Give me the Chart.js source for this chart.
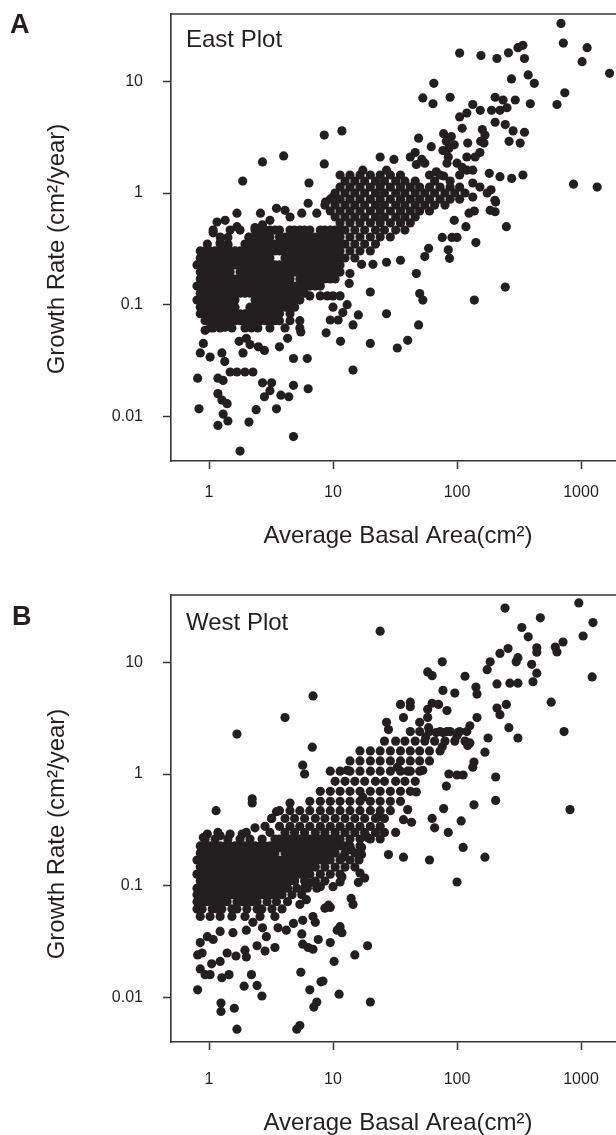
<!DOCTYPE html>
<html>
<head>
<meta charset="utf-8">
<script src="https://cdn.jsdelivr.net/npm/chart.js@4.4.1/dist/chart.umd.min.js"></script>
<style>
  html, body { margin: 0; padding: 0; background: #fff; overflow: hidden; }
  #wrap { position: relative; width: 616px; height: 1135px; }
  canvas { position: absolute; left: 0; }
</style>
</head>
<body>
<div id="wrap">
  <canvas id="east" width="616" height="581" style="top:0"></canvas>
  <canvas id="west" width="616" height="554" style="top:581px"></canvas>
</div>
<script>
// tick values
const basalTicks = [1, 10, 100, 1000];
const growthTicks = [0.01, 0.1, 1, 10];

// East plot: [basal area cm2, growth rate cm2/year], scattered points
const eastPoints = [
  [690, 33], [720, 22], [1120, 20], [1020, 15], [1700, 11.8], [740, 7.9], [640, 6.2], [870, 1.2], [1350, 1.13],
  [105, 17.9], [156, 17], [210, 16], [260, 18], [310, 20], [340, 21], [350, 16],
  [275, 10.5], [375, 11.4], [420, 9.6], [390, 6.3], [295, 6.8], [235, 6.8], [203, 7.2],
  [65, 9.6], [53, 7.1], [64, 6.3], [88, 7.2],
  [134, 6.2], [154, 5.5], [105, 4.8], [120, 5.2],
  [190, 5.5], [222, 5.5], [253, 5.8],
  [203, 4.3], [245, 4.1], [283, 3.6], [350, 3.5], [263, 2.9], [323, 2.8],
  [160, 3.7], [168, 3.3], [155, 2.9], [165, 2.8],
  [49, 3.1], [62, 2.6],
  [78, 3.4], [82, 2.9], [90, 3.2], [95, 2.7], [86, 2.5],
  [110, 3.8], [122, 2.8], [140, 2.1], [153, 2.3], [120, 1.6], [134, 1.6],
  [8.5, 3.3], [11.8, 3.6], [8.5, 1.82], [2.7, 1.9], [4.0, 2.15], [1.87, 1.28], [6.4, 1.23],
  [24, 2.1], [31, 2.0],
  [42, 2.1], [46, 2.3], [52, 2.0], [47, 1.8], [55, 1.85],
  [182, 1.5], [222, 1.4], [276, 1.35], [340, 1.45],
  [188, 1.07], [205, 0.83], [203, 0.68], [250, 0.50], [142, 0.36], [118, 0.50], [95, 0.57],
  [85, 0.31], [87, 0.26], [55, 0.27], [59, 0.32], [47, 0.19],
  [76, 0.40], [91, 0.40], [100, 0.40],
  [125, 0.66], [138, 0.69],
  [35, 0.25], [27, 0.24], [21, 0.23], [17, 0.23], [13.7, 0.19],
  [17.4, 1.6], [27, 1.6], [68, 1.55], [78, 1.42],
  [85, 2.1], [100, 1.85], [110, 1.7], [120, 2.1], [83, 1.85], [77, 2.4],
  [134, 1.23], [134, 0.92], [175, 1.0], [153, 1.13], [185, 0.70], [202, 0.86],
  [50, 0.126], [53, 0.11], [138, 0.11], [245, 0.144],
  [49, 0.066], [40, 0.048], [33, 0.041], [20, 0.045], [27, 0.083], [20, 0.13], [16, 0.081],
  [14.5, 0.066], [11.5, 0.047], [14.5, 0.026], [8.8, 0.056], [6.2, 0.033], [6.3, 0.0177],
  [9.5, 0.073], [11, 0.073], [10, 0.095], [12, 0.085], [13, 0.10],
  [6.5, 0.12], [7.9, 0.12], [9, 0.12], [10, 0.12], [11.4, 0.12],
  [10.2, 0.19], [13.5, 0.155], [5.5, 0.057],
  [0.81, 0.022], [0.83, 0.0117], [1.18, 0.0083], [1.42, 0.0091], [1.3, 0.0105], [2.1, 0.0089],
  [2.4, 0.0115], [1.78, 0.0049], [3.5, 0.0117], [4.8, 0.0066],
  [1.18, 0.016], [1.27, 0.014], [1.4, 0.013], [1.18, 0.022], [1.3, 0.021],
  [1.48, 0.025], [1.68, 0.025], [1.95, 0.025], [2.26, 0.025],
  [2.7, 0.020], [3.2, 0.020], [3.1, 0.017], [2.8, 0.015], [3.8, 0.0155], [4.4, 0.015], [4.8, 0.019],
  [0.85, 0.037], [1.02, 0.034], [1.27, 0.037], [1.34, 0.031], [0.93, 0.059], [0.9, 0.045],
  [1.88, 0.037], [2.8, 0.039], [2.5, 0.042], [2.14, 0.044], [1.75, 0.047], [2.0, 0.050],
  [3.7, 0.042], [4.3, 0.050], [4.8, 0.033],
  [1.08, 0.062], [1.2, 0.068], [1.35, 0.063], [1.45, 0.07],
  [1.68, 0.66], [1.16, 0.55], [1.35, 0.57], [1.08, 0.44], [1.68, 0.50], [1.23, 0.36],
  [1.42, 0.40], [1.42, 0.34], [0.96, 0.30], [1.05, 0.23], [2.1, 0.40],
  [2.6, 0.66], [3.1, 0.57], [3.5, 0.73], [4.1, 0.70], [2.7, 0.52], [2.35, 0.49],
  [4.5, 0.61], [5.6, 0.66], [6.3, 0.81], [7.4, 0.66], [8.7, 0.83], [10, 0.92]
];
// East plot dense cloud, one growth value per row
const eastRowGrowth = [
  1.45, 1.28, 1.13, 1.0, 0.88, 0.78, 0.69, 0.61, 0.54,
  0.466, 0.404, 0.349, 0.303, 0.262, 0.227, 0.196, 0.170, 0.147, 0.127, 0.110, 0.095, 0.083, 0.072, 0.062
];
const eastRowBasal = [
  [11.4, 13.7, 16.5, 20, 24, 29, 35, 60, 73, 105],
  [12.5, 15, 18, 22, 26, 32, 38, 46, 66, 88],
  [11.4, 13.7, 16.5, 20, 24, 29, 35, 42, 50, 60, 73, 88, 105],
  [10.4, 12.5, 15, 18, 22, 26, 32, 38, 46, 55, 66, 80, 96, 116],
  [9.5, 11.4, 13.7, 16.5, 20, 24, 29, 35, 42, 50, 60, 73, 88, 105],
  [8.6, 10.4, 12.5, 15, 18, 22, 26, 32, 38, 46, 55, 66, 80],
  [9.5, 11.4, 13.7, 16.5, 20, 24, 29, 35, 42, 50, 60],
  [10.4, 12.5, 15, 18, 22, 26, 32, 38, 46],
  [11.4, 13.7, 16.5, 20, 24, 29, 35, 42],
  [1.08, 1.48, 1.78, 2.35, 2.58, 2.83, 3.1, 3.4, 3.7, 4.5, 4.9, 5.4, 5.9, 6.5, 7.9, 8.6, 9.5, 10.4, 11.4, 12.5, 15, 18, 22, 26, 32, 38],
  [1.23, 2.1, 2.35, 2.58, 2.83, 3.1, 3.7, 4.1, 4.5, 4.9, 5.4, 5.9, 6.5, 7.2, 7.9, 8.6, 9.5, 10.4, 11.4, 13.7, 16.5, 20, 24, 29],
  [0.97, 1.23, 1.42, 1.95, 2.14, 2.35, 2.58, 2.83, 3.1, 3.4, 3.7, 4.1, 4.5, 4.9, 5.4, 5.9, 6.5, 7.2, 7.9, 8.6, 9.5, 10.4, 11.4, 12.5, 15, 18, 22],
  [0.85, 0.93, 1.02, 1.12, 1.23, 1.35, 1.48, 1.62, 1.78, 1.95, 2.14, 2.35, 2.58, 2.83, 3.1, 3.4, 3.7, 4.1, 4.5, 4.9, 5.4, 5.9, 6.5, 7.2, 7.9, 8.6, 9.5, 10.4, 11.4, 13.7, 16.5, 20],
  [0.85, 0.93, 1.02, 1.12, 1.23, 1.35, 1.48, 1.62, 1.78, 1.95, 2.14, 2.35, 2.58, 2.83, 3.1, 4.1, 4.5, 4.9, 5.4, 5.9, 6.5, 7.2, 7.9, 8.6, 9.5, 10.4, 11.4, 12.5, 15],
  [0.80, 0.85, 0.93, 1.02, 1.12, 1.23, 1.35, 1.48, 1.62, 1.78, 1.95, 2.14, 2.35, 2.58, 2.83, 3.1, 3.4, 3.7, 4.1, 4.5, 4.9, 5.4, 5.9, 6.5, 7.2, 7.9, 8.6, 9.5, 10.4, 11.4],
  [0.85, 0.93, 1.02, 1.12, 1.23, 1.35, 1.48, 1.78, 1.95, 2.14, 2.35, 2.58, 2.83, 3.1, 3.4, 3.7, 4.1, 4.5, 4.9, 5.4, 5.9, 6.5, 7.2, 7.9, 8.6, 9.5, 10.4, 11.4],
  [0.85, 0.93, 1.02, 1.12, 1.23, 1.35, 1.48, 1.62, 1.78, 1.95, 2.14, 2.35, 2.58, 2.83, 3.1, 3.4, 3.7, 4.1, 4.5, 5.4, 5.9, 6.5, 7.2, 7.9, 8.6, 9.5, 10.4],
  [0.80, 0.85, 0.93, 1.02, 1.12, 1.23, 1.35, 1.48, 1.62, 1.78, 1.95, 2.14, 2.35, 2.58, 2.83, 3.1, 3.4, 3.7, 4.1, 4.5, 4.9, 5.4, 5.9, 6.5, 7.2, 7.9],
  [0.85, 0.93, 1.02, 1.12, 1.23, 1.35, 1.48, 1.62, 1.78, 1.95, 2.14, 2.35, 2.58, 2.83, 3.1, 3.4, 3.7, 4.1, 4.5, 4.9, 5.4, 5.9],
  [0.80, 0.85, 0.93, 1.02, 1.12, 1.23, 1.35, 1.48, 1.62, 2.35, 2.58, 2.83, 3.1, 3.4, 3.7, 4.1, 4.5, 4.9, 5.4],
  [0.85, 0.93, 1.02, 1.12, 1.23, 1.35, 1.48, 1.62, 2.14, 2.35, 2.58, 2.83, 3.1, 3.4, 3.7, 4.1, 4.5, 4.9],
  [0.85, 0.93, 1.02, 1.12, 1.23, 1.35, 1.48, 1.62, 1.78, 1.95, 2.14, 2.35, 2.58, 2.83, 3.1, 3.4, 3.7, 4.5],
  [0.93, 1.02, 1.12, 1.23, 1.35, 1.48, 1.62, 1.78, 1.95, 2.14, 2.35, 2.58, 2.83, 3.1, 3.4, 3.7, 4.5, 5.4],
  [1.02, 1.23, 1.53, 1.95, 2.2, 2.48, 3.1, 4.1, 5.4]
];

// West plot: scattered points
const westPoints = [
  [960, 34], [1250, 22.7], [1040, 17.2], [1230, 7.4], [470, 25], [244, 30.6], [333, 20.5], [375, 16.9],
  [716, 15.2], [620, 13.7], [640, 12.4], [440, 13.5], [440, 12.3], [310, 11], [300, 10.1], [258, 13.3], [222, 12],
  [185, 10.1], [175, 8.6], [400, 9.6], [440, 8], [410, 6.7], [267, 6.5], [310, 6.5], [210, 6.4],
  [76, 10.1], [58, 8.2], [63, 7.6], [116, 7.5], [142, 6], [145, 5.2], [77, 5.6], [96, 5.3],
  [575, 4.4], [730, 2.4], [815, 0.48],
  [210, 3.9], [250, 4.2], [222, 3.4], [262, 2.6], [310, 2.1], [145, 3.2], [178, 2.1], [168, 1.57],
  [137, 1.28], [134, 1.15], [205, 0.94], [205, 0.58], [137, 0.53], [112, 0.22], [168, 0.18], [108, 0.38],
  [85, 0.30], [66, 0.33], [63, 0.40], [78, 0.49],
  [82, 0.78], [86, 1.0], [100, 0.98], [112, 0.98],
  [120, 2.4], [127, 2.7], [102, 2.35], [100, 2.2], [122, 1.8], [127, 1.9],
  [83, 2.4], [68, 2.35], [77, 2.35], [59, 2.6], [56, 2.15], [50, 2.9], [58, 3.8], [58, 3.2], [63, 4.3], [71, 4.2], [83, 3.7],
  [76, 1.75], [53, 1.08],
  [42, 4.4], [35, 4.2], [37, 3.2], [42, 4.0],
  [27, 2.9], [28, 2.5], [33, 1.15], [40, 1.06],
  [47, 0.69], [17.4, 0.62], [13, 1.08],
  [23, 0.41], [37, 0.39], [40, 0.48], [43, 0.37], [60, 0.17],
  [37, 0.18], [28, 0.19], [19, 0.27], [17, 0.22], [14, 0.21], [12, 0.18],
  [6.8, 1.74], [5.7, 1.2], [5.9, 1.0], [6.9, 5.0], [24, 19],
  [100, 0.108], [19, 0.029], [20, 0.0091], [15, 0.024], [11.2, 0.0107], [10.2, 0.021], [9.5, 0.031], [7.6, 0.033],
  [11.4, 0.043], [11.8, 0.038], [10.8, 0.040], [8, 0.0138], [8.3, 0.014], [6.5, 0.0117], [7.4, 0.0091], [7, 0.0082],
  [5.4, 0.0056], [5.5, 0.0168], [14, 0.077], [14.5, 0.068], [8.6, 0.063], [9.2, 0.067], [9.5, 0.064], [7.2, 0.047],
  [5.7, 0.030], [6.3, 0.028], [6.9, 0.027], [16.5, 0.13], [18, 0.117], [16, 0.107], [16.2, 0.17], [17, 0.19],
  [10, 0.098], [11.4, 0.108], [11.8, 0.12], [7.9, 0.098], [6.5, 0.106], [5.9, 0.096], [6.1, 0.075], [5.4, 0.068],
  [6.9, 0.053], [5.7, 0.049],
  [0.81, 0.0117], [1.25, 0.0089], [1.25, 0.0075], [1.6, 0.0080], [1.68, 0.0052], [5.1, 0.0052],
  [1.92, 0.0126], [2.2, 0.016], [2.44, 0.0128], [2.67, 0.0103],
  [0.81, 0.024], [0.88, 0.025], [0.85, 0.018], [0.93, 0.016], [1.02, 0.016], [1.27, 0.015], [1.45, 0.016],
  [1.05, 0.020], [1.23, 0.021], [1.4, 0.025], [1.65, 0.0235], [1.95, 0.0265], [2.0, 0.023], [2.44, 0.029],
  [2.83, 0.026], [3.4, 0.028],
  [0.85, 0.031], [0.97, 0.035], [1.08, 0.033], [1.23, 0.039], [1.56, 0.038], [2.0, 0.040], [2.26, 0.047],
  [2.9, 0.035], [2.7, 0.042], [3.6, 0.042], [4.2, 0.040], [4.8, 0.046], [5.6, 0.037],
  [1.68, 2.28], [4.1, 3.2], [1.14, 0.47], [2.23, 0.60], [2.23, 0.55], [4.5, 0.55], [3.5, 0.46], [3.2, 0.40], [2.35, 0.33],
  [0.97, 0.29], [1.18, 0.30], [1.48, 0.29], [1.85, 0.29], [2.0, 0.30], [0.9, 0.27], [1.23, 0.28],
  [3.7, 0.22], [3.5, 0.23], [2.48, 0.19]
];
// West plot dense cloud, one growth value per row
const westRowGrowth = [
  2.4, 1.97, 1.61, 1.31, 1.06, 0.86, 0.70, 0.57,
  0.47, 0.40, 0.34, 0.30, 0.262, 0.227, 0.196, 0.170, 0.147, 0.127, 0.110, 0.095, 0.083, 0.072, 0.062, 0.053
];
const westRowBasal = [
  [42, 50, 60, 73, 88, 105],
  [26, 32, 38, 46, 55, 66, 80, 96, 116],
  [16.5, 20, 24, 29, 35, 42, 50, 60, 73],
  [13.7, 16.5, 20, 24, 29, 35, 42, 50, 60],
  [9.5, 11.4, 13.7, 16.5, 20, 24, 29, 35, 42, 50],
  [10.4, 12.5, 15, 18, 22, 26, 32, 38, 46],
  [7.9, 9.5, 11.4, 13.7, 16.5, 20, 24, 29, 35, 42],
  [6.5, 7.9, 9.5, 11.4, 13.7, 16.5, 20, 24, 29, 35],
  [3.7, 4.5, 5.4, 6.5, 7.9, 9.5, 11.4, 13.7, 16.5, 20, 24, 29],
  [3.2, 4.1, 4.9, 5.9, 7.2, 8.6, 10.4, 12.5, 15, 18, 22, 26],
  [2.83, 3.7, 4.5, 5.4, 6.5, 7.9, 9.5, 11.4, 13.7, 16.5, 20, 24],
  [3.1, 4.1, 4.9, 5.9, 7.2, 8.6, 10.4, 12.5, 15, 18, 22, 26, 32],
  [0.93, 1.12, 1.42, 1.78, 2.14, 2.68, 3.4, 3.7, 4.1, 4.5, 4.9, 5.4, 5.9, 6.5, 7.2, 7.9, 8.6, 9.5, 10.4, 11.4, 13.7, 16.5, 20, 24],
  [0.85, 0.93, 1.02, 1.12, 1.23, 1.35, 1.48, 1.62, 1.78, 1.95, 2.14, 2.35, 2.58, 2.83, 3.1, 3.4, 3.7, 4.1, 4.5, 4.9, 5.4, 5.9, 6.5, 7.2, 7.9, 8.6, 9.5, 10.4, 11.4, 12.5, 13.7, 16.5],
  [0.85, 0.93, 1.02, 1.12, 1.23, 1.35, 1.48, 1.62, 1.78, 1.95, 2.14, 2.35, 2.58, 2.83, 3.1, 3.4, 4.1, 4.5, 4.9, 5.4, 5.9, 6.5, 7.2, 7.9, 8.6, 9.5, 10.4, 12.5, 15],
  [0.80, 0.85, 0.93, 1.02, 1.12, 1.23, 1.35, 1.48, 1.62, 1.78, 1.95, 2.14, 2.35, 2.58, 2.83, 3.1, 3.4, 3.7, 4.1, 4.5, 4.9, 5.4, 5.9, 6.5, 7.2, 7.9, 8.6, 9.5, 11.4, 13.7],
  [0.85, 0.93, 1.02, 1.12, 1.23, 1.35, 1.48, 1.62, 1.78, 1.95, 2.14, 2.35, 2.58, 2.83, 3.1, 3.4, 3.7, 4.1, 4.5, 4.9, 5.4, 5.9, 6.5, 7.2, 8.6, 10.4, 12.5, 15],
  [0.80, 0.85, 0.93, 1.02, 1.12, 1.23, 1.35, 1.48, 1.62, 1.78, 1.95, 2.14, 2.35, 2.58, 2.83, 3.1, 3.4, 3.7, 4.1, 4.5, 4.9, 5.4, 5.9, 6.5, 7.9, 9.5, 11.4],
  [0.85, 0.93, 1.02, 1.12, 1.23, 1.35, 1.48, 1.62, 1.78, 1.95, 2.14, 2.35, 2.58, 2.83, 3.1, 3.4, 3.7, 4.1, 4.5, 4.9, 5.9, 7.2, 8.6],
  [0.80, 0.88, 0.96, 1.06, 1.16, 1.27, 1.40, 1.53, 1.68, 1.85, 2.02, 2.22, 2.44, 2.67, 2.94, 3.22, 3.5, 3.88, 4.3, 5.1, 6.2, 7.4],
  [0.80, 0.88, 0.96, 1.06, 1.16, 1.27, 1.40, 1.53, 1.68, 1.85, 2.02, 2.22, 2.44, 2.67, 2.94, 3.22, 3.5, 3.88, 4.67, 5.6],
  [0.80, 0.88, 0.96, 1.06, 1.16, 1.27, 1.40, 1.68, 1.85, 2.02, 2.22, 2.44, 2.94, 3.5, 4.3],
  [0.80, 0.88, 1.06, 1.16, 1.27, 1.53, 1.68, 2.02, 2.44, 2.67, 3.22, 3.88],
  [0.85, 1.02, 1.23, 1.53, 1.95, 2.58, 3.4]
];

const ink = '#231f20';
const axisInk = '#333333';
const fontFamily = "'Liberation Sans', Arial, sans-serif";

function toXY(points, rowGrowth, rowBasal) {
  const out = points.map(p => ({ x: p[0], y: p[1] }));
  rowGrowth.forEach((g, i) => rowBasal[i].forEach(b => out.push({ x: b, y: g })));
  return out;
}

// letters, panel names, axis titles and the top frame line
const panelText = {
  id: 'panelText',
  afterDraw(chart, args, o) {
    const ctx = chart.ctx;
    const a = chart.chartArea;
    ctx.save();
    ctx.strokeStyle = axisInk;
    ctx.lineWidth = 1.6;
    ctx.beginPath();
    ctx.moveTo(a.left - 0.8, a.top);
    ctx.lineTo(a.right, a.top);
    ctx.stroke();

    ctx.fillStyle = ink;
    ctx.textBaseline = 'alphabetic';
    ctx.textAlign = 'left';
    ctx.font = 'bold 27px ' + fontFamily;
    ctx.fillText(o.letter, o.letterX, o.letterY);
    ctx.font = '24px ' + fontFamily;
    ctx.fillText(o.name, 186, o.nameY);
    ctx.textAlign = 'center';
    ctx.fillText('Average Basal Area(cm²)', 398, o.xTitleY);
    ctx.translate(64, o.yTitleMid);
    ctx.rotate(-Math.PI / 2);
    ctx.fillText('Growth Rate (cm²/year)', 0, 0);
    ctx.restore();
  }
};

function makeChart(id, data, cfg) {
  const canvas = document.getElementById(id);
  return new Chart(canvas, {
    type: 'scatter',
    data: {
      datasets: [{
        data: data,
        pointRadius: 4.6,
        pointHoverRadius: 4.6,
        pointBorderWidth: 0,
        backgroundColor: ink,
        borderColor: ink
      }]
    },
    options: {
      responsive: false,
      animation: false,
      devicePixelRatio: 1,
      layout: { autoPadding: false, padding: { top: 14, left: 0, right: 0, bottom: 0 } },
      plugins: {
        legend: { display: false },
        tooltip: { enabled: false },
        panelText: cfg
      },
      scales: {
        x: {
          type: 'logarithmic',
          min: 0.4937,
          max: 1915,
          afterBuildTicks: ax => { ax.ticks = basalTicks.map(v => ({ value: v })); },
          afterFit: ax => {
            ax.height = canvas.height - 461;
            ax.paddingLeft = 0;
            ax.paddingRight = 0;
          },
          ticks: {
            callback: v => String(v),
            font: { family: fontFamily, size: 16 },
            color: ink,
            padding: cfg.xPad,
            maxRotation: 0,
            autoSkip: false
          },
          grid: { drawOnChartArea: false, drawTicks: true, tickLength: 8, tickColor: axisInk, tickWidth: 1.5 },
          border: { display: true, color: axisInk, width: 1.6 }
        },
        y: {
          type: 'logarithmic',
          min: 0.00399,
          max: 40.05,
          afterBuildTicks: ax => { ax.ticks = growthTicks.map(v => ({ value: v })); },
          afterFit: ax => {
            ax.width = 171;
            ax.paddingTop = 0;
            ax.paddingBottom = 0;
          },
          ticks: {
            callback: v => String(v),
            font: { family: fontFamily, size: 16 },
            color: ink,
            padding: 20,
            autoSkip: false
          },
          grid: { drawOnChartArea: false, drawTicks: true, tickLength: 8, tickColor: axisInk, tickWidth: 1.5 },
          border: { display: true, color: axisInk, width: 1.6 }
        }
      }
    },
    plugins: [panelText]
  });
}

makeChart('east', toXY(eastPoints, eastRowGrowth, eastRowBasal), {
  letter: 'A', letterX: 10, letterY: 33, name: 'East Plot', nameY: 47,
  xTitleY: 543, yTitleMid: 249, xPad: 14
});
makeChart('west', toXY(westPoints, westRowGrowth, westRowBasal), {
  letter: 'B', letterX: 12, letterY: 44, name: 'West Plot', nameY: 49,
  xTitleY: 549, yTitleMid: 253, xPad: 20
});
</script>
</body>
</html>
